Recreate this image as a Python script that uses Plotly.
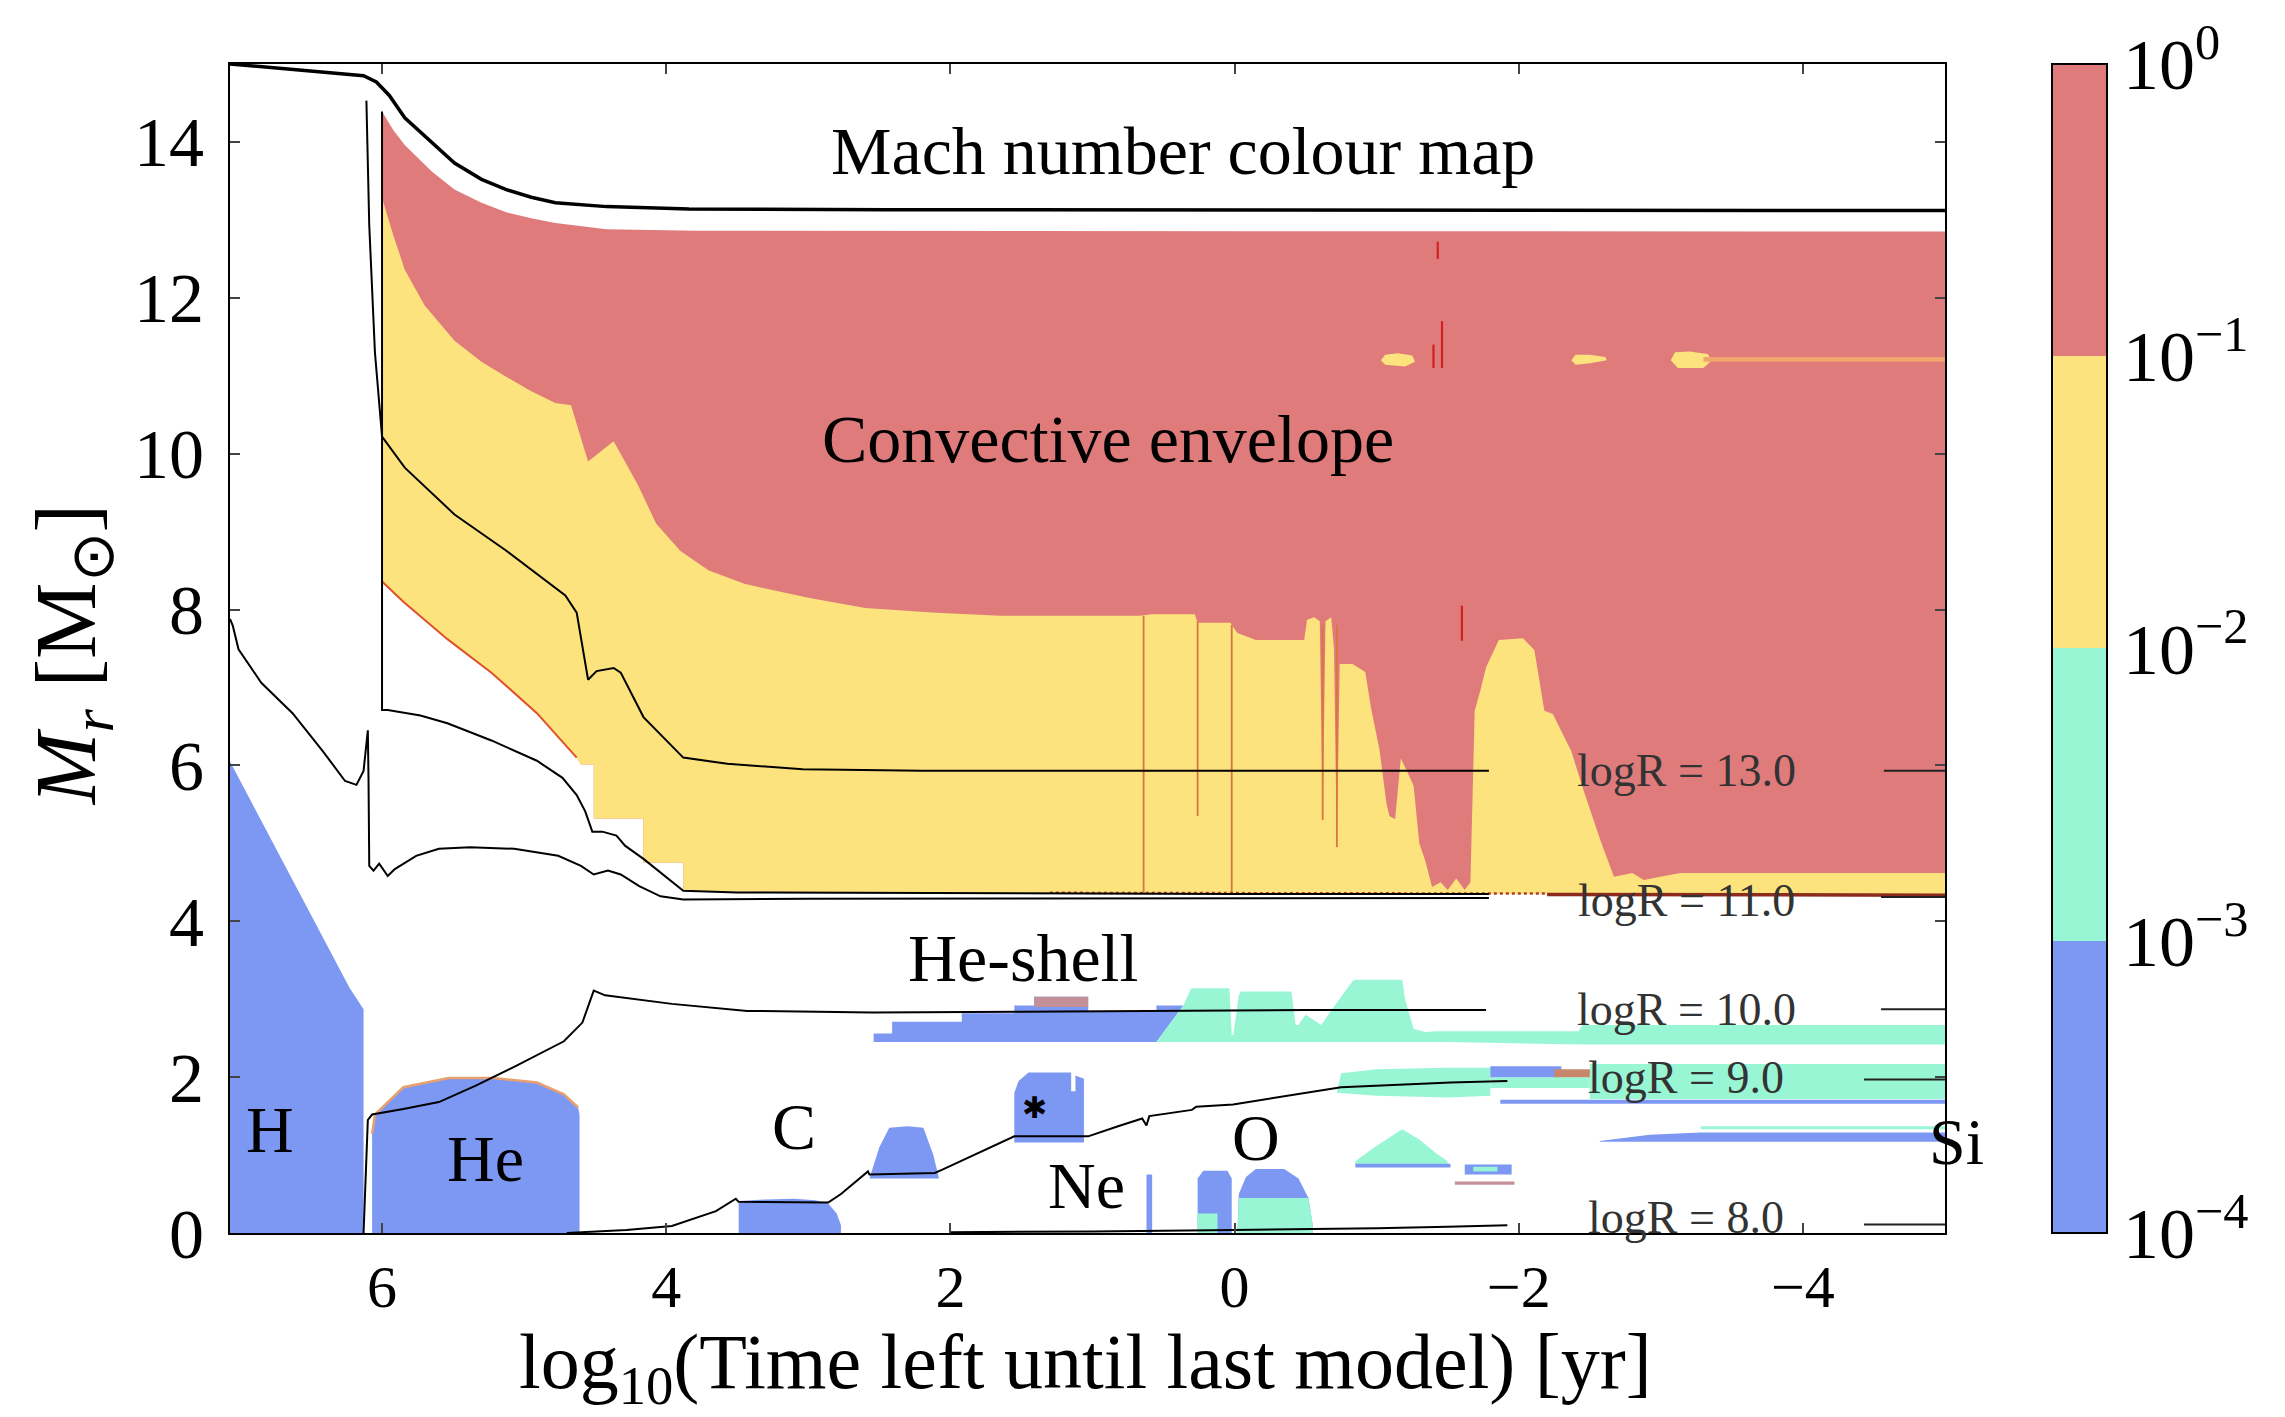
import plotly.graph_objects as go

# ---- colours of the Mach-number bins ----
RED = "#E07B7B"      # 1e-1 .. 1
YELLOW = "#FCE37E"   # 1e-2 .. 1e-1
AQUA = "#98F6D4"     # 1e-3 .. 1e-2
BLUE = "#7D98F3"     # 1e-4 .. 1e-3
ORANGE = "#DA7440"
MAUVE = "#C39098"
BROWN = "#8C2A1C"
FONT = "Liberation Serif"

# ---- axes ----
x_ticks = [6, 4, 2, 0, -2, -4]
x_ticklabels = ["6", "4", "2", "0", "−2", "−4"]
y_ticks = [0, 2, 4, 6, 8, 10, 12, 14]
cbar_levels = [-4, -3, -2, -1, 0]
cbar_labels = ["10<sup>−4</sup>", "10<sup>−3</sup>", "10<sup>−2</sup>", "10<sup>−1</sup>", "10<sup>0</sup>"]

# ---- stellar surface ----
surf_x = [7.07, 6.60, 6.13, 6.04, 5.95, 5.84, 5.65, 5.49, 5.30, 5.13, 4.95, 4.78, 4.42, 3.84, 2.44, -5.0]
surf_y = [15.0, 14.93, 14.85, 14.77, 14.60, 14.31, 14.00, 13.73, 13.52, 13.39, 13.29, 13.22, 13.17, 13.14, 13.13, 13.12]

# ---- convective envelope ----
env_top_x = [6.0, 5.92, 5.84, 5.65, 5.49, 5.30, 5.13, 4.95, 4.78, 4.42, 3.80, -5.0]
env_top_y = [14.39, 14.15, 13.96, 13.62, 13.39, 13.22, 13.10, 13.02, 12.96, 12.88, 12.86, 12.85]
env_base_x = [6.0, 5.85, 5.54, 5.23, 4.91, 4.63, 4.60, 4.51, 4.51, 4.16, 4.16, 3.88, 3.88, 2.0, -2.2, -5.0]
env_base_y = [8.36, 8.10, 7.62, 7.19, 6.67, 6.10, 6.01, 6.01, 5.32, 5.32, 4.75, 4.75, 4.39, 4.36, 4.35, 4.34]
# boundary between Ma > 0.1 (above) and 0.01 < Ma < 0.1 (below)
ma01_x = [6.0, 5.92, 5.84, 5.70, 5.49, 5.30, 5.13, 4.95, 4.78, 4.67, 4.55, 4.45, 4.37, 4.20, 4.07,
          3.90, 3.70, 3.45, 3.00, 2.60, 2.10,
          1.65, 0.67, 0.58, 0.28, 0.26, 0.03, -0.02, -0.15, -0.49, -0.51, -0.56, -0.60, -0.62, -0.64,
          -0.68, -0.70, -0.72, -0.74, -0.83, -0.92, -0.96, -1.02, -1.07, -1.09, -1.13, -1.17, -1.22,
          -1.26, -1.30, -1.34, -1.39, -1.45, -1.50, -1.56, -1.62, -1.66, -1.69, -1.73, -1.77, -1.86,
          -2.03, -2.11, -2.18, -2.24, -2.37, -2.46, -2.58, -2.67, -2.80, -2.88, -3.05, -3.14, -5.0]
ma01_y = [13.28, 12.80, 12.36, 11.90, 11.45, 11.18, 10.99, 10.80, 10.65, 10.62, 9.90, 10.05, 10.16,
          9.60, 9.10, 8.75, 8.50, 8.33, 8.15,
          8.02, 7.96, 7.92, 7.92, 7.94, 7.94, 7.83, 7.83, 7.70, 7.61, 7.61, 7.87, 7.90, 7.85, 5.30, 7.85,
          7.90, 7.50, 4.95, 7.30, 7.30, 7.20, 6.74, 6.20, 5.50, 5.35, 5.31, 6.09, 5.90, 5.74, 5.00,
          4.79, 4.44, 4.50, 4.40, 4.55, 4.40, 4.50, 6.70, 6.96, 7.26, 7.61, 7.63, 7.48, 6.70, 6.66,
          6.18, 5.66, 5.01, 4.57, 4.62, 4.53, 4.59, 4.62, 4.62]
# small yellow islands inside the envelope
isl1_x = [-1.03, -1.06, -1.15, -1.25, -1.27, -1.20, -1.06]
isl1_y = [11.20, 11.27, 11.29, 11.26, 11.18, 11.12, 11.14]
isl2_x = [-2.37, -2.40, -2.50, -2.61, -2.62, -2.50, -2.40]
isl2_y = [11.20, 11.27, 11.27, 11.24, 11.20, 11.16, 11.14]
isl3_x = [-3.07, -3.10, -3.20, -3.33, -3.36, -3.30, -3.12]
isl3_y = [11.20, 11.30, 11.31, 11.28, 11.20, 11.10, 11.10]
thread_x = [-3.30, -5.0, -5.0, -3.30]
thread_y = [11.18, 11.18, 11.24, 11.24]
# thin streaks crossing the envelope (x, y_top, y_bottom)
streak_x = [0.64, 0.26, 0.02, -0.62, -0.72]
streak_top = [7.92, 7.85, 7.80, 7.80, 7.80]
streak_bot = [4.37, 5.35, 4.37, 5.30, 4.95]
hot_x = [-1.43, -1.46, -1.40, -1.60]
hot_top = [12.72, 11.70, 11.40, 8.05]
hot_bot = [12.50, 11.10, 11.10, 7.60]

# ---- core burning regions ----
h_core_x = [7.07, 7.07, 6.23, 6.13, 6.13]
h_core_y = [0.0, 6.05, 3.15, 2.87, 0.0]
he_core_x = [6.07, 6.07, 6.05, 5.85, 5.53, 5.22, 4.91, 4.72, 4.62, 4.61, 4.61]
he_core_y = [0.0, 1.27, 1.52, 1.87, 1.99, 1.99, 1.93, 1.78, 1.61, 1.51, 0.0]
c_core_x = [3.49, 3.49, 3.30, 3.10, 2.95, 2.86, 2.80, 2.77, 2.77]
c_core_y = [0.0, 0.41, 0.43, 0.44, 0.42, 0.38, 0.25, 0.10, 0.0]
c_sh1_x = [2.57, 2.50, 2.43, 2.30, 2.19, 2.12, 2.08]
c_sh1_y = [0.70, 1.10, 1.35, 1.37, 1.35, 1.00, 0.70]
c_sh2_x = [1.55, 1.55, 1.52, 1.45, 1.15, 1.15, 1.12, 1.12, 1.06, 1.06]
c_sh2_y = [1.16, 1.80, 1.95, 2.06, 2.06, 1.82, 1.82, 2.02, 1.98, 1.16]
ne_x = [0.62, 0.62, 0.58, 0.58]
ne_y = [0.0, 0.75, 0.75, 0.0]
o1_x = [0.26, 0.26, 0.22, 0.05, 0.02, 0.02]
o1_y = [0.0, 0.70, 0.80, 0.80, 0.70, 0.0]
o1_low_x = [0.26, 0.26, 0.12, 0.12]
o1_low_y = [0.0, 0.25, 0.25, 0.0]
o2_x = [-0.02, -0.03, -0.08, -0.15, -0.35, -0.45, -0.52, -0.55, -0.55]
o2_y = [0.0, 0.50, 0.72, 0.82, 0.82, 0.70, 0.45, 0.10, 0.0]
o2_low_x = [-0.02, -0.03, -0.52, -0.55, -0.55]
o2_low_y = [0.0, 0.45, 0.45, 0.10, 0.0]
o_sh_x = [-0.85, -1.00, -1.18, -1.30, -1.42, -1.50, -1.50, -0.85]
o_sh_y = [0.92, 1.12, 1.33, 1.20, 1.02, 0.92, 0.88, 0.88]
o_sh_base_x = [-0.85, -1.52, -1.52, -0.85]
o_sh_base_y = [0.84, 0.84, 0.89, 0.89]
si_blob_x = [-1.62, -1.95, -1.95, -1.62]
si_blob_y = [0.75, 0.75, 0.88, 0.88]
si_inner_x = [-1.68, -1.85, -1.85, -1.68]
si_inner_y = [0.79, 0.79, 0.85, 0.85]
si_strip_x = [-1.55, -1.97, -1.97, -1.55]
si_strip_y = [0.62, 0.62, 0.66, 0.66]

# ---- He shell ----
he_sh_blue_x = [2.54, 2.54, 2.41, 2.41, 1.92, 1.92, 1.55, 1.55, 1.41, 1.41, 1.03, 1.03, 0.55, 0.55, 0.36, 0.55]
he_sh_blue_y = [2.45, 2.56, 2.56, 2.71, 2.71, 2.82, 2.82, 2.92, 2.92, 3.03, 3.03, 2.84, 2.84, 2.92, 2.92, 2.45]
he_sh_cap_x = [1.41, 1.41, 1.03, 1.03]
he_sh_cap_y = [2.90, 3.03, 3.03, 2.90]
he_sh_aqua_x = [0.55, 0.36, 0.305, 0.036, 0.02, 0.009, -0.03, -0.045, -0.07, -0.40, -0.43, -0.45,
                -0.50, -0.58, -0.61, -0.69, -0.83, -0.85, -1.18, -1.20, -1.26, -1.34, -1.42, -2.42,
                -2.45, -5.0, -5.0, -2.45, -1.5, -0.5, 0.55]
he_sh_aqua_y = [2.45, 2.92, 3.14, 3.14, 2.54, 2.54, 3.05, 3.10, 3.10, 3.10, 2.67, 2.67, 2.80, 2.70,
                2.67, 2.88, 3.23, 3.25, 3.25, 3.00, 2.62, 2.58, 2.59, 2.59, 2.67, 2.67, 2.42, 2.42,
                2.45, 2.45, 2.45]
# inner shells near the end of the run
sh9_aqua_x = [-0.72, -0.75, -1.0, -1.5, -1.8, -1.8, -1.5, -1.0, -0.72]
sh9_aqua_y = [1.80, 2.05, 2.10, 2.12, 2.12, 1.76, 1.74, 1.76, 1.80]
sh9_blue_x = [-1.8, -2.3, -2.3, -1.8]
sh9_blue_y = [2.00, 2.00, 2.14, 2.14]
sh9_warm_x = [-2.25, -2.58, -2.58, -2.25]
sh9_warm_y = [2.00, 2.00, 2.10, 2.10]
sh9_mid_x = [-1.8, -2.5, -2.5, -1.8]
sh9_mid_y = [1.86, 1.86, 2.00, 2.00]
sh9_right_x = [-2.5, -5.0, -5.0, -2.5]
sh9_right_y = [1.72, 1.72, 2.17, 2.17]
sh9_line_x = [-1.87, -5.0, -5.0, -1.87]
sh9_line_y = [1.66, 1.66, 1.71, 1.71]
si_band_x = [-2.57, -2.92, -3.28, -5.0, -5.0, -2.57]
si_band_y = [1.18, 1.26, 1.29, 1.29, 1.17, 1.17]
si_thin_x = [-3.28, -5.0, -5.0, -3.28]
si_thin_y = [1.33, 1.33, 1.37, 1.37]

# ---- iso-radius contours (log R / cm) ----
r13_x = [6.11, 6.10, 6.09, 6.05, 6.0, 5.84, 5.49, 5.13, 4.71, 4.63, 4.55, 4.49, 4.37, 4.32, 4.16,
         3.88, 3.57, 3.04, 2.2, 1.0, -1.79]
r13_y = [14.53, 13.80, 12.93, 11.30, 10.22, 9.82, 9.22, 8.76, 8.18, 7.96, 7.10, 7.21, 7.25, 7.19,
         6.62, 6.10, 6.02, 5.95, 5.93, 5.93, 5.93]
r12_x = [6.0, 6.0, 5.96, 5.73, 5.54, 5.23, 4.91, 4.73, 4.63, 4.57, 4.52, 4.45, 4.35, 4.29, 4.16,
         3.98, 3.88, 3.5, 2.0, 0.0, -1.79]
r12_y = [14.39, 6.71, 6.71, 6.64, 6.54, 6.32, 6.06, 5.84, 5.62, 5.41, 5.15, 5.15, 5.10, 4.97, 4.80,
         4.54, 4.39, 4.37, 4.36, 4.35, 4.35]
r11_x = [7.07, 7.05, 7.01, 6.85, 6.63, 6.42, 6.26, 6.18, 6.13, 6.10, 6.095, 6.09, 6.06, 6.02, 5.96,
         5.91, 5.76, 5.60, 5.38, 5.07, 4.76, 4.60, 4.51, 4.41, 4.32, 4.19, 4.04, 3.88, 3.0, 0.0, -1.79]
r11_y = [7.88, 7.79, 7.49, 7.06, 6.67, 6.19, 5.80, 5.75, 5.93, 6.45, 5.80, 4.71, 4.65, 4.74, 4.58,
         4.67, 4.84, 4.93, 4.95, 4.93, 4.84, 4.71, 4.60, 4.65, 4.60, 4.45, 4.32, 4.28, 4.29, 4.30, 4.30]
r10_x = [6.13, 6.10, 6.07, 5.85, 5.60, 5.34, 5.06, 4.72, 4.59, 4.51, 4.43, 3.96, 3.43, 2.55, 1.5,
         0.5, -0.5, -1.77]
r10_y = [0.0, 1.45, 1.52, 1.59, 1.68, 1.89, 2.14, 2.46, 2.70, 3.11, 3.05, 2.94, 2.85, 2.83, 2.84,
         2.85, 2.86, 2.86]
r9_x = [4.70, 4.28, 3.96, 3.65, 3.51, 3.49, 2.86, 2.77, 2.58, 2.57, 2.11, 2.06, 1.55, 1.03, 0.82,
        0.65, 0.62, 0.60, 0.30, 0.27, 0.01, -0.53, -0.75, -1.52, -1.92]
r9_y = [0.0, 0.04, 0.09, 0.28, 0.44, 0.40, 0.39, 0.50, 0.79, 0.75, 0.77, 0.81, 1.24, 1.24, 1.37,
        1.47, 1.38, 1.50, 1.58, 1.62, 1.65, 1.80, 1.87, 1.93, 1.95]
r8_x = [2.0, 1.0, 0.0, -1.0, -1.5, -1.92]
r8_y = [0.01, 0.02, 0.04, 0.06, 0.08, 0.10]
# contour labels and the short right-hand pieces of each contour
r_label_text = ["logR = 13.0", "logR = 11.0", "logR = 10.0", "logR = 9.0", "logR = 8.0"]
r_label_y = [5.93, 4.27, 2.87, 2.00, 0.20]
r_stub_x0 = [-4.57, -4.55, -4.55, -4.43, -4.43]
r_stub_y = [5.93, 4.31, 2.87, 1.97, 0.11]

# ---- region labels ----
reg_text = ["H", "He", "C", "Ne", "O"]
reg_x = [6.79, 5.27, 3.10, 1.04, -0.15]
reg_y = [1.33, 0.96, 1.37, 0.61, 1.23]

fig = go.Figure()


def poly(x, y, color):
    fig.add_trace(go.Scatter(x=x, y=y, fill="toself", fillcolor=color, mode="lines",
                             line=dict(width=0), hoverinfo="skip", showlegend=False))


def curve(x, y, color="black", width=2.0, dash="solid"):
    fig.add_trace(go.Scatter(x=x, y=y, mode="lines", line=dict(color=color, width=width, dash=dash),
                             hoverinfo="skip", showlegend=False))


# envelope: whole red region, then the slower yellow part on top of it
poly(env_top_x + env_base_x[::-1], env_top_y + env_base_y[::-1], RED)
poly(ma01_x + env_base_x[::-1], ma01_y + env_base_y[::-1], YELLOW)
for xs, ys in [(isl1_x, isl1_y), (isl2_x, isl2_y), (isl3_x, isl3_y)]:
    poly(xs, ys, YELLOW)
poly(thread_x, thread_y, "#F2A46E")
for sx, t, b in zip(streak_x, streak_top, streak_bot):
    curve([sx, sx], [t, b], ORANGE, 1.8)
for sx, t, b in zip(hot_x, hot_top, hot_bot):
    curve([sx, sx], [t, b], "#D42020", 2.2)
curve(env_base_x[:6], env_base_y[:6], "#E0502A", 2.0)
curve([1.3, -2.2], [4.365, 4.355], "#B0402A", 2.5, "dot")
curve([-2.2, -5.0], [4.345, 4.335], BROWN, 3.5)

# cores and shells
poly(h_core_x, h_core_y, BLUE)
poly(he_core_x, he_core_y, BLUE)
curve(he_core_x[1:9], he_core_y[1:9], "#E8A070", 2.5)
poly(c_core_x, c_core_y, BLUE)
poly(c_sh1_x, c_sh1_y, BLUE)
poly(c_sh2_x, c_sh2_y, BLUE)
poly(ne_x, ne_y, BLUE)
poly(o1_x, o1_y, BLUE)
poly(o1_low_x, o1_low_y, AQUA)
poly(o2_x, o2_y, BLUE)
poly(o2_low_x, o2_low_y, AQUA)
poly(o_sh_x, o_sh_y, AQUA)
poly(o_sh_base_x, o_sh_base_y, BLUE)
poly(si_blob_x, si_blob_y, BLUE)
poly(si_inner_x, si_inner_y, AQUA)
poly(si_strip_x, si_strip_y, MAUVE)
poly(he_sh_blue_x, he_sh_blue_y, BLUE)
poly(he_sh_cap_x, he_sh_cap_y, MAUVE)
poly(he_sh_aqua_x, he_sh_aqua_y, AQUA)
poly(sh9_aqua_x, sh9_aqua_y, AQUA)
poly(sh9_mid_x, sh9_mid_y, AQUA)
poly(sh9_blue_x, sh9_blue_y, BLUE)
poly(sh9_warm_x, sh9_warm_y, "#C8876A")
poly(sh9_right_x, sh9_right_y, AQUA)
poly(sh9_line_x, sh9_line_y, BLUE)
poly(si_band_x, si_band_y, BLUE)
poly(si_thin_x, si_thin_y, AQUA)

# surface and iso-radius contours
curve(surf_x, surf_y, "black", 3.5)
for xs, ys in [(r13_x, r13_y), (r12_x, r12_y), (r11_x, r11_y), (r10_x, r10_y), (r9_x, r9_y), (r8_x, r8_y)]:
    curve(xs, ys, "black", 2.0)
for x0, yy in zip(r_stub_x0, r_stub_y):
    curve([x0, -5.0], [yy, yy], "#222222", 2.0)

# colour bar carried by an off-axis marker
fig.add_trace(go.Scatter(
    x=[100], y=[100], mode="markers", showlegend=False, hoverinfo="skip",
    marker=dict(color=[-2], cmin=-4, cmax=0, size=1,
                colorscale=[[0, BLUE], [0.25, BLUE], [0.25, AQUA], [0.5, AQUA],
                            [0.5, YELLOW], [0.75, YELLOW], [0.75, RED], [1, RED]],
                showscale=True,
                colorbar=dict(x=1.0624, xanchor="left", y=0.5, yanchor="middle", len=1.0,
                              lenmode="fraction", thickness=55, thicknessmode="pixels",
                              xpad=0, ypad=0, outlinecolor="black", outlinewidth=2,
                              tickvals=cbar_levels, ticktext=cbar_labels, ticks="",
                              tickfont=dict(family=FONT, size=72, color="black")))))

ann = []
big = dict(family=FONT, size=68, color="black")
ann.append(dict(x=0.36, y=13.88, text="Mach number colour map", showarrow=False, font=big))
ann.append(dict(x=0.89, y=10.19, text="Convective envelope", showarrow=False, font=big))
ann.append(dict(x=1.49, y=3.53, text="He-shell", showarrow=False, font=big))
for t, xx, yy in zip(reg_text, reg_x, reg_y):
    ann.append(dict(x=xx, y=yy, text=t, showarrow=False, font=dict(family=FONT, size=66, color="black")))
ann.append(dict(x=1.41, y=1.61, text="✱", showarrow=False,
                font=dict(family="DejaVu Sans", size=30, color="black")))
for t, yy in zip(r_label_text, r_label_y):
    ann.append(dict(x=-3.18, y=yy, text=t, showarrow=False,
                    font=dict(family=FONT, size=46, color="#333333")))
ann.append(dict(xref="paper", yref="paper", x=1.024, y=0.045, text="Si", showarrow=False,
                font=dict(family=FONT, size=66, color="black")))
ann.append(dict(xref="paper", yref="paper", x=0.499, y=-0.1145, yanchor="middle",
                text="log<sub>10</sub>(Time left until last model) [yr]", showarrow=False,
                font=dict(family=FONT, size=78, color="black")))
ann.append(dict(xref="paper", yref="paper", x=-0.125, y=0.494, textangle=-90,
                text="<i>M<sub>r</sub></i> [M<sub>⊙</sub>]", showarrow=False,
                font=dict(family=FONT, size=86, color="black")))

fig.update_layout(
    width=2285, height=1417,
    margin=dict(l=230, r=340, t=64, b=184),
    paper_bgcolor="white", plot_bgcolor="white",
    annotations=ann,
    xaxis=dict(range=[7.07, -5.0], tickvals=x_ticks, ticktext=x_ticklabels, ticks="inside",
               ticklen=10, tickwidth=1.5, showline=True, linecolor="black", linewidth=2,
               mirror="ticks", showgrid=False, zeroline=False, ticklabelstandoff=0,
               tickfont=dict(family=FONT, size=60, color="black")),
    yaxis=dict(range=[0, 15], tickvals=y_ticks, ticks="inside", ticklen=10, tickwidth=1.5,
               showline=True, linecolor="black", linewidth=2, mirror="ticks", showgrid=False,
               zeroline=False, ticklabelstandoff=10,
               tickfont=dict(family=FONT, size=70, color="black")),
)

fig.write_html("out.html")
